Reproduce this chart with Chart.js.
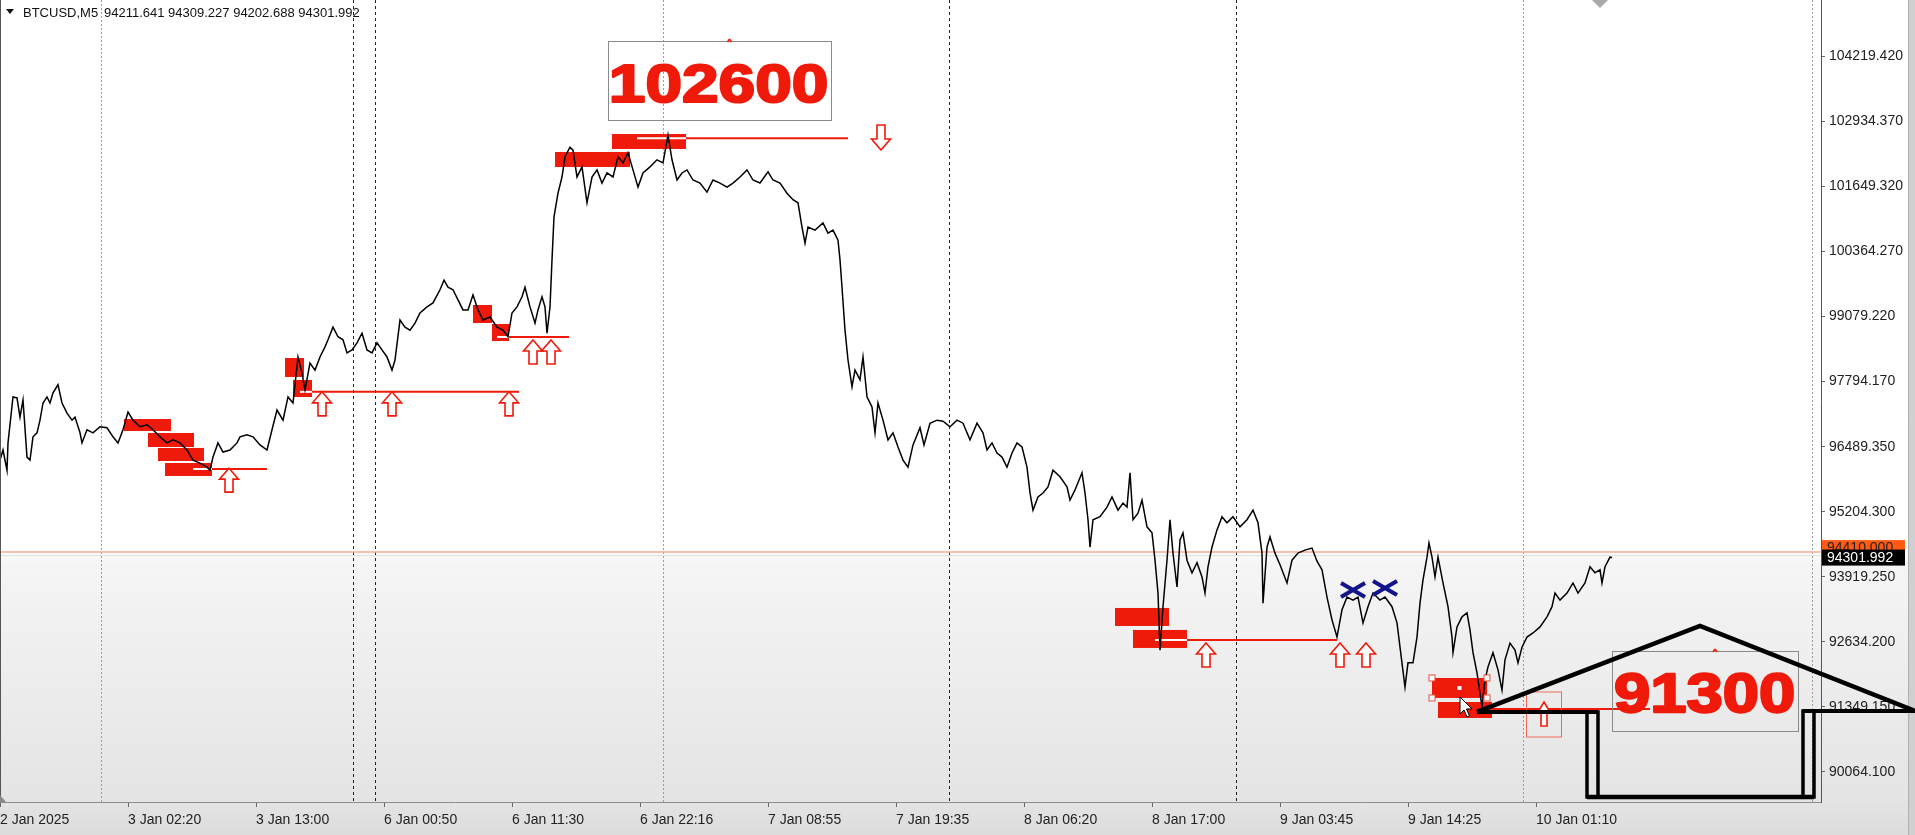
<!DOCTYPE html>
<html>
<head>
<meta charset="utf-8">
<title>BTCUSD,M5</title>
<script src="https://cdn.jsdelivr.net/npm/chart.js@4.4.1/dist/chart.umd.min.js"></script>
<style>
  html, body { margin: 0; padding: 0; background: #fff; overflow: hidden; }
  canvas { display: block; }
</style>
</head>
<body>
<canvas id="chart" width="1915" height="835"></canvas>
<script>
// M5 bars, x = bar index from the first visible bar
const bars = [
  0, 3, 7, 8, 13, 17, 20, 23, 27, 30, 33, 37, 40, 43, 47, 50, 53, 58, 62, 67, 72, 75, 80, 82, 87, 93,
  100, 107, 113, 118, 123, 128, 133, 140, 147, 153, 160, 167, 173, 180, 187, 193, 200, 207, 210, 213,
  218, 223, 230, 237, 240, 247, 253, 260, 267, 272, 277, 283, 288, 293, 298, 302, 305, 310, 315, 320,
  325, 328, 333, 338, 343, 347, 352, 357, 362, 367, 372, 377, 382, 387, 392, 395, 400, 405, 410, 415,
  420, 427, 433, 440, 444, 448, 453, 458, 463, 468, 473, 478, 483, 490, 497, 503, 508, 512, 517, 522,
  525, 530, 535, 538, 542, 545, 547, 550, 552, 554, 558, 562, 565, 570, 573, 577, 582, 587, 592, 597,
  602, 607, 613, 618, 623, 628, 633, 638, 643, 650, 657, 663, 668, 672, 677, 682, 687, 693, 700, 707,
  713, 720, 727, 733, 740, 747, 753, 760, 768, 773, 780, 787, 793, 798, 802, 805, 808, 815, 823, 828,
  833, 838, 840, 842, 845, 848, 852, 855, 860, 863, 867, 872, 875, 878, 883, 888, 893, 898, 903, 908,
  913, 920, 924, 930, 937, 943, 950, 957, 963, 970, 977, 983, 987, 992, 997, 1002, 1007, 1012, 1017,
  1022, 1027, 1030, 1033, 1038, 1043, 1048, 1053, 1060, 1067, 1070, 1075, 1082, 1085, 1088, 1090, 1093,
  1100, 1107, 1112, 1118, 1123, 1127, 1130, 1133, 1138, 1142, 1147, 1152, 1155, 1158, 1160, 1163, 1167,
  1170, 1173, 1177, 1180, 1183, 1187, 1192, 1197, 1202, 1205, 1208, 1212, 1217, 1222, 1227, 1233, 1240,
  1247, 1253, 1258, 1262, 1263, 1267, 1270, 1275, 1280, 1287, 1292, 1298, 1305, 1312, 1317, 1322, 1327,
  1332, 1337, 1342, 1347, 1353, 1358, 1363, 1368, 1373, 1380, 1385, 1392, 1397, 1400, 1405, 1408, 1413,
  1417, 1420, 1423, 1427, 1429, 1432, 1435, 1438, 1443, 1448, 1452, 1453, 1457, 1462, 1467, 1470, 1473,
  1477, 1480, 1482, 1485, 1488, 1493, 1498, 1502, 1505, 1510, 1515, 1518, 1522, 1527, 1533, 1540, 1547,
  1552, 1555, 1560, 1567, 1573, 1578, 1585, 1590, 1595, 1600, 1602, 1605, 1610, 1612
];
const prices = [
  96230, 96430, 96030, 96570, 97480, 97460, 97080, 97420, 96290, 96230, 96690, 96770, 97020, 97360, 97480, 97360, 97560, 97720, 97360, 97160, 97020, 97080, 96770, 96570, 96830, 96770,
  96890, 96870, 96690, 96570, 96830, 97180, 97020, 96890, 96930, 96830, 96690, 96570, 96630, 96570, 96430, 96230, 96170, 96090, 96030, 96290,
  96570, 96390, 96430, 96570, 96690, 96730, 96690, 96530, 96430, 96830, 97220, 97020, 97480, 97360, 98270, 97950, 97620, 98150, 98010, 98270,
  98470, 98610, 98860, 98670, 98610, 98350, 98410, 98550, 98740, 98410, 98350, 98550, 98410, 98270, 98010, 98210, 99000, 98860, 98800, 98940,
  99140, 99260, 99340, 99600, 99790, 99650, 99600, 99400, 99200, 99200, 99500, 99200, 99000, 99060, 98860, 98800, 98670, 99140, 99260, 99460,
  99650, 99260, 98940, 99200, 99460, 99260, 98740, 99260, 100190, 101040, 101510, 101830, 102230, 102420, 102360, 101830, 102030, 101320, 101830, 101970,
  101710, 101910, 101830, 102230, 102110, 102310, 101970, 101630, 101910, 102030, 102170, 102110, 102660, 102170, 101770, 101910, 101970, 101770, 101710, 101530,
  101770, 101710, 101630, 101710, 101830, 101970, 101770, 101710, 101930, 101770, 101710, 101510, 101380, 101320, 100840, 100520, 100840, 100780, 100920, 100720,
  100780, 100580, 100190, 99650, 98800, 98210, 97680, 98010, 97820, 98270, 97480, 97280, 96770, 97360, 97020, 96630, 96770, 96490, 96230, 96090,
  96530, 96870, 96530, 96960, 97020, 97000, 96890, 97020, 96960, 96630, 96960, 96770, 96430, 96570, 96370, 96290, 96090, 96370, 96570,
  96490, 96090, 95580, 95240, 95500, 95580, 95700, 96030, 95900, 95700, 95440, 95640, 95980, 95580, 95050, 94510, 95050,
  95110, 95300, 95500, 95240, 95380, 95300, 95980, 95050, 95180, 95440, 94910, 94790, 94250, 93600, 92470, 93330, 94250,
  95050, 94390, 93720, 94650, 94790, 94250, 94000, 94200, 93920, 93600, 94120, 94510, 94850, 95110, 94990, 95110, 94910,
  95050, 95240, 94990, 94390, 93400, 94510, 94710, 94390, 94160, 93800, 94250, 94390, 94450, 94490, 94230, 94060, 93520,
  93070, 92730, 93270, 93520, 93460, 93520, 93010, 93330, 93600, 93460, 93520, 93330, 93010, 92530, 91740, 92220, 92220,
  92730, 93400, 93860, 94310, 94590, 94310, 93920, 94310, 93800, 93330, 92730, 92420, 92930, 93130, 93210, 92870, 92420,
  92020, 91620, 91350, 91880, 92140, 92420, 92080, 91680, 92280, 92610, 92470, 92220, 92530, 92730, 92810, 92930, 93130,
  93330, 93600, 93460, 93600, 93800, 93600, 93800, 94120, 94000, 94060, 93800, 94120, 94310, 94302
];

const timeTickBars = [0, 128, 256, 384, 512, 640, 768, 896, 1024, 1152, 1280, 1408, 1536];
const timeLabels = ['2 Jan 2025', '3 Jan 02:20', '3 Jan 13:00', '6 Jan 00:50', '6 Jan 11:30', '6 Jan 22:16',
  '7 Jan 08:55', '7 Jan 19:35', '8 Jan 06:20', '8 Jan 17:00', '9 Jan 03:45', '9 Jan 14:25', '10 Jan 01:10'];
const priceTicks = [90064.1, 91349.15, 92634.2, 93919.25, 95204.3, 96489.35, 97794.17, 99079.22,
  100364.27, 101649.32, 102934.37, 104219.42];

const symbol = 'BTCUSD,M5';
const ohlc = [94211.641, 94309.227, 94202.688, 94301.992];
const lastPrice = 94301.992;
const askPrice = 94410;

// vertical separators (bar index)
const dottedBars = [101, 663, 1523, 1812];
const dashedBars = [353, 375, 949, 1236];

// supply / demand zones: [from bar, to bar] and [top price, bottom price]
const zoneBars = [[124, 171], [148, 194], [158, 204], [165, 212], [285, 304], [293, 312], [473, 492], [492, 509],
  [555, 630], [612, 686], [1115, 1169], [1133, 1187], [1432, 1487], [1438, 1492]];
const zonePrices = [[97043, 96806], [96766, 96489], [96470, 96212], [96173, 95916], [98250, 97874], [97815, 97478],
  [99298, 98942], [98922, 98586], [102324, 102028], [102680, 102384], [93305, 92949], [92870, 92514],
  [91920, 91525], [91445, 91129]];

// level lines: [white from, red from, red to] and price
const levelBars = [[193, 212, 267], [300, 312, 519], [497, 509, 569], [637, 686, 848], [1155, 1187, 1337], [1492, 1492, 1650]];
const levelPrices = [96054, 97580, 98665, 102595, 92672, 91307];

// arrows (tip position)
const upArrowBars = [229, 322, 392, 509, 533, 551, 1206, 1340, 1366];
const upArrowPrices = [96110, 97620, 97620, 97620, 98645, 98645, 92652, 92652, 92652];
const downArrowBars = [881];
const downArrowPrices = [102364];
const boxedArrowBars = [1544];
const boxedArrowPrices = [91445];

const crossBars = [1353, 1385];
const crossPrices = [93661, 93700];

// hand-drawn notes
const noteTexts = ['102600', '91300'];
const noteBoxBars = [[608, 831], [1612, 1798]];
const noteBoxPrices = [[104520, 102957], [92454, 90872]];
const noteTextBars = [[611, 828], [1615, 1795]];
const noteTextPrices = [[104065, 103294], [92039, 91228]];

const houseRoofBars = [1477, 1700, 1915];
const houseRoofPrices = [91248, 92949, 91267];
const houseWallBars = [[1587, 1598], [1803, 1814]];
const houseEavePrices = [91248, 91267];
const houseFloorPrice = 89567;
const cursorBar = 1460;
const cursorPrice = 91545;

const RED = '#f01a0a';
const FONT = "'Liberation Sans', Arial, sans-serif";

function line(ctx, x1, y1, x2, y2) {
  ctx.beginPath(); ctx.moveTo(x1, y1); ctx.lineTo(x2, y2); ctx.stroke();
}

function arrow(ctx, cx, tip, w, h, dir, shaft) {
  const head = 11 * dir;
  const s = shaft / 2;
  ctx.beginPath();
  ctx.moveTo(cx, tip);
  ctx.lineTo(cx + w / 2, tip + head);
  ctx.lineTo(cx + s, tip + head);
  ctx.lineTo(cx + s, tip + h * dir);
  ctx.lineTo(cx - s, tip + h * dir);
  ctx.lineTo(cx - s, tip + head);
  ctx.lineTo(cx - w / 2, tip + head);
  ctx.closePath();
  ctx.fillStyle = '#fff';
  ctx.fill();
  ctx.stroke();
}

const overlay = {
  id: 'overlay',
  beforeDraw(chart) {
    const { ctx, width, height } = chart;
    const g = ctx.createLinearGradient(0, 0, 0, height);
    g.addColorStop(0, '#ffffff');
    g.addColorStop(0.655, '#ffffff');
    g.addColorStop(0.675, '#f5f5f5');
    g.addColorStop(0.96, '#e4e4e4');
    g.addColorStop(1, '#dcdcdc');
    ctx.save();
    ctx.fillStyle = g;
    ctx.fillRect(0, 0, width, height);
    ctx.restore();
  },
  beforeDatasetsDraw(chart) {
    const { ctx, chartArea: a, scales: { x, y } } = chart;
    ctx.save();
    ctx.lineWidth = 1;
    ctx.setLineDash([2, 2]);
    ctx.strokeStyle = '#9c9c9c';
    dottedBars.forEach(b => { const px = Math.round(x.getPixelForValue(b)) + 0.5; line(ctx, px, a.top, px, a.bottom); });
    ctx.setLineDash([3, 3]);
    ctx.strokeStyle = '#222';
    dashedBars.forEach(b => { const px = Math.round(x.getPixelForValue(b)) + 0.5; line(ctx, px, a.top, px, a.bottom); });
    ctx.setLineDash([]);

    // ask line
    ctx.strokeStyle = '#f7ad95';
    ctx.lineWidth = 1.5;
    const ay = y.getPixelForValue(askPrice);
    line(ctx, a.left, ay, a.right, ay);
    ctx.strokeStyle = '#e2dede';
    ctx.lineWidth = 1;
    line(ctx, a.left, ay + 3.5, a.right, ay + 3.5);

    // zones
    ctx.fillStyle = RED;
    zoneBars.forEach((b, i) => {
      const x1 = x.getPixelForValue(b[0]), x2 = x.getPixelForValue(b[1]);
      const y1 = y.getPixelForValue(zonePrices[i][0]), y2 = y.getPixelForValue(zonePrices[i][1]);
      ctx.fillRect(x1, y1, x2 - x1, y2 - y1);
    });

    // levels
    levelBars.forEach((b, i) => {
      const ly = y.getPixelForValue(levelPrices[i]);
      const w0 = x.getPixelForValue(b[0]), r0 = x.getPixelForValue(b[1]), r1 = x.getPixelForValue(b[2]);
      ctx.lineWidth = 2;
      ctx.strokeStyle = '#fff';
      if (r0 > w0) line(ctx, w0, ly, r0, ly);
      ctx.strokeStyle = RED;
      line(ctx, r0, ly, r1, ly);
    });
    ctx.restore();
  },
  afterDatasetsDraw(chart) {
    const { ctx, scales: { x, y } } = chart;
    ctx.save();
    ctx.strokeStyle = RED;
    ctx.lineWidth = 1.6;
    upArrowBars.forEach((b, i) => arrow(ctx, x.getPixelForValue(b), y.getPixelForValue(upArrowPrices[i]) + 2, 19, 24, 1, 8));
    downArrowBars.forEach((b, i) => arrow(ctx, x.getPixelForValue(b), y.getPixelForValue(downArrowPrices[i]), 19, 25, -1, 8));
    boxedArrowBars.forEach((b, i) => {
      const cx = x.getPixelForValue(b), ty = y.getPixelForValue(boxedArrowPrices[i]);
      ctx.lineWidth = 1;
      ctx.strokeStyle = '#f06a5a';
      ctx.strokeRect(cx - 17.5, ty - 10, 35, 45);
      ctx.strokeStyle = RED;
      ctx.lineWidth = 1.6;
      arrow(ctx, cx, ty, 13, 24, 1, 6);
    });

    // selection handles on the last zone
    const hz = zoneBars[12], hp = zonePrices[12];
    ctx.lineWidth = 1;
    ctx.strokeStyle = '#e05040';
    ctx.fillStyle = '#fff';
    [[hz[0], hp[0]], [hz[1], hp[0]], [hz[0], hp[1]], [hz[1], hp[1]]].forEach(([b, p]) => {
      const hx = x.getPixelForValue(b), hy = y.getPixelForValue(p);
      ctx.fillRect(hx - 3, hy - 3, 6, 6);
      ctx.strokeRect(hx - 3, hy - 3, 6, 6);
    });
    ctx.fillRect(x.getPixelForValue((hz[0] + hz[1]) / 2) - 2, y.getPixelForValue((hp[0] + hp[1]) / 2) - 2, 4, 4);

    // blue crosses
    ctx.strokeStyle = '#14148a';
    ctx.lineWidth = 4;
    crossBars.forEach((b, i) => {
      const cx = x.getPixelForValue(b), cy = y.getPixelForValue(crossPrices[i]);
      line(ctx, cx - 12, cy - 7, cx + 12, cy + 7);
      line(ctx, cx - 12, cy + 7, cx + 12, cy - 7);
    });

    // note boxes and big numbers
    noteTexts.forEach((t, i) => {
      const bx1 = x.getPixelForValue(noteBoxBars[i][0]), bx2 = x.getPixelForValue(noteBoxBars[i][1]);
      const by1 = y.getPixelForValue(noteBoxPrices[i][0]), by2 = y.getPixelForValue(noteBoxPrices[i][1]);
      ctx.lineWidth = 1;
      ctx.strokeStyle = '#8a8a8a';
      ctx.strokeRect(Math.round(bx1) + 0.5, Math.round(by1) + 0.5, Math.round(bx2 - bx1), Math.round(by2 - by1));
      ctx.strokeStyle = RED;
      ctx.lineWidth = 1.5;
      const mx = (bx1 + bx2) / 2 + 10;
      line(ctx, mx - 2, by1 + 1, mx, by1 - 2);
      line(ctx, mx, by1 - 2, mx + 2, by1 + 1);

      const tx1 = x.getPixelForValue(noteTextBars[i][0]), tx2 = x.getPixelForValue(noteTextBars[i][1]);
      const ty1 = y.getPixelForValue(noteTextPrices[i][0]), ty2 = y.getPixelForValue(noteTextPrices[i][1]);
      ctx.font = 'bold 58px ' + FONT;
      const m = ctx.measureText(t);
      const inkW = m.actualBoundingBoxLeft + m.actualBoundingBoxRight + 3;
      const inkH = m.actualBoundingBoxAscent + 1.5;
      ctx.save();
      ctx.translate(tx1 + 1.2, ty2 - 0.8);
      ctx.scale((tx2 - tx1) / inkW, (ty2 - ty1) / inkH);
      ctx.fillStyle = RED;
      ctx.strokeStyle = RED;
      ctx.lineWidth = 2.4;
      ctx.lineJoin = 'round';
      ctx.textBaseline = 'alphabetic';
      ctx.fillText(t, m.actualBoundingBoxLeft, 0);
      ctx.strokeText(t, m.actualBoundingBoxLeft, 0);
      ctx.restore();
    });

    // header
    ctx.fillStyle = '#111';
    ctx.beginPath();
    ctx.moveTo(6, 9); ctx.lineTo(14, 9); ctx.lineTo(10, 14); ctx.closePath(); ctx.fill();
    ctx.font = '13px ' + FONT;
    ctx.textBaseline = 'alphabetic';
    ctx.fillText(symbol, 23, 17);
    ctx.fillText(ohlc.map(v => v.toFixed(3)).join(' '), 104, 17);
    ctx.restore();
  },
  afterDraw(chart) {
    const { ctx, chartArea: a, scales: { x, y }, width, height } = chart;
    ctx.save();
    // frame details
    ctx.strokeStyle = '#555';
    ctx.lineWidth = 1;
    line(ctx, 0.5, a.top, 0.5, a.bottom);
    ctx.fillStyle = '#8a8a8a';
    ctx.beginPath(); ctx.moveTo(0, a.bottom - 7); ctx.lineTo(6, a.bottom); ctx.lineTo(0, a.bottom); ctx.closePath(); ctx.fill();
    ctx.fillStyle = '#a8a8a8';
    const sx = x.getPixelForValue(1600);
    ctx.beginPath(); ctx.moveTo(sx - 8, 0); ctx.lineTo(sx + 8, 0); ctx.lineTo(sx, 8); ctx.closePath(); ctx.fill();
    ctx.fillStyle = '#d0d0d0';
    ctx.fillRect(width - 6, 0, 6, height);
    ctx.strokeStyle = '#b0b0b0';
    line(ctx, width - 6.5, 0, width - 6.5, height);

    // price labels on the axis
    ctx.font = '14px ' + FONT;
    ctx.textBaseline = 'middle';
    const ay = y.getPixelForValue(askPrice);
    ctx.fillStyle = '#ff5a14';
    ctx.fillRect(a.right + 1, ay - 12, 83, 16);
    ctx.fillStyle = '#222';
    ctx.fillText(askPrice.toFixed(3), a.right + 6, ay - 4);
    const ly = y.getPixelForValue(lastPrice);
    ctx.fillStyle = '#000';
    ctx.fillRect(a.right + 1, ly - 8, 83, 16);
    ctx.fillStyle = '#fff';
    ctx.fillText(lastPrice.toFixed(3), a.right + 6, ly + 0.5);

    // hand-drawn house
    ctx.strokeStyle = '#000';
    ctx.lineJoin = 'miter';
    ctx.lineWidth = 4.5;
    ctx.beginPath();
    houseRoofBars.forEach((b, i) => {
      const px = x.getPixelForValue(b), py = y.getPixelForValue(houseRoofPrices[i]);
      if (i === 0) ctx.moveTo(px, py); else ctx.lineTo(px, py);
    });
    ctx.stroke();
    const floorY = y.getPixelForValue(houseFloorPrice);
    ctx.lineWidth = 4;
    const e0 = y.getPixelForValue(houseEavePrices[0]), e1 = y.getPixelForValue(houseEavePrices[1]);
    line(ctx, x.getPixelForValue(houseRoofBars[0]), e0, x.getPixelForValue(houseWallBars[0][1]), e0);
    line(ctx, x.getPixelForValue(houseWallBars[1][0]), e1, x.getPixelForValue(houseRoofBars[2]), e1);
    ctx.lineWidth = 3.5;
    houseWallBars.forEach((w, i) => {
      const x1 = x.getPixelForValue(w[0]), x2 = x.getPixelForValue(w[1]);
      const top = i === 0 ? e0 : e1;
      ctx.strokeRect(x1, top, x2 - x1, floorY - top);
    });
    ctx.lineWidth = 4.5;
    line(ctx, x.getPixelForValue(houseWallBars[0][0]), floorY, x.getPixelForValue(houseWallBars[1][1]), floorY);

    // mouse cursor
    const cx = x.getPixelForValue(cursorBar), cy = y.getPixelForValue(cursorPrice);
    ctx.lineWidth = 1;
    ctx.fillStyle = '#fff';
    ctx.beginPath();
    ctx.moveTo(cx, cy); ctx.lineTo(cx, cy + 17); ctx.lineTo(cx + 4, cy + 13); ctx.lineTo(cx + 7, cy + 20);
    ctx.lineTo(cx + 9.5, cy + 19); ctx.lineTo(cx + 6.5, cy + 12); ctx.lineTo(cx + 12, cy + 12); ctx.closePath();
    ctx.fill(); ctx.stroke();
    ctx.restore();
  }
};

new Chart(document.getElementById('chart'), {
  type: 'line',
  data: {
    datasets: [{
      label: symbol,
      data: bars.map((b, i) => ({ x: b, y: prices[i] })),
      borderColor: '#000',
      borderWidth: 1.5,
      pointRadius: 0,
      tension: 0
    }]
  },
  options: {
    responsive: false,
    animation: false,
    devicePixelRatio: 1,
    layout: { padding: 0 },
    plugins: { legend: { display: false }, tooltip: { enabled: false } },
    scales: {
      x: {
        type: 'linear',
        min: 0,
        max: 1821,
        afterFit(s) { s.height = 33; s.paddingLeft = 0; s.paddingRight = 0; },
        afterBuildTicks(s) { s.ticks = timeTickBars.map(v => ({ value: v })); },
        ticks: {
          autoSkip: false,
          maxRotation: 0,
          align: 'start',
          padding: 5,
          color: '#222',
          font: { family: FONT, size: 14 },
          callback: (v, i) => timeLabels[i]
        },
        grid: { drawOnChartArea: false, tickLength: 5, color: '#666' },
        border: { color: '#8c8c8c' }
      },
      y: {
        type: 'linear',
        position: 'right',
        min: 89467,
        max: 105331,
        afterFit(s) { s.width = 94; s.paddingTop = 0; s.paddingBottom = 0; },
        afterBuildTicks(s) { s.ticks = priceTicks.map(v => ({ value: v })); },
        ticks: {
          padding: 4,
          color: '#222',
          font: { family: FONT, size: 14 },
          callback: v => v.toFixed(3)
        },
        grid: { drawOnChartArea: false, tickLength: 4, color: '#666' },
        border: { color: '#555' }
      }
    }
  },
  plugins: [overlay]
});
</script>
</body>
</html>
